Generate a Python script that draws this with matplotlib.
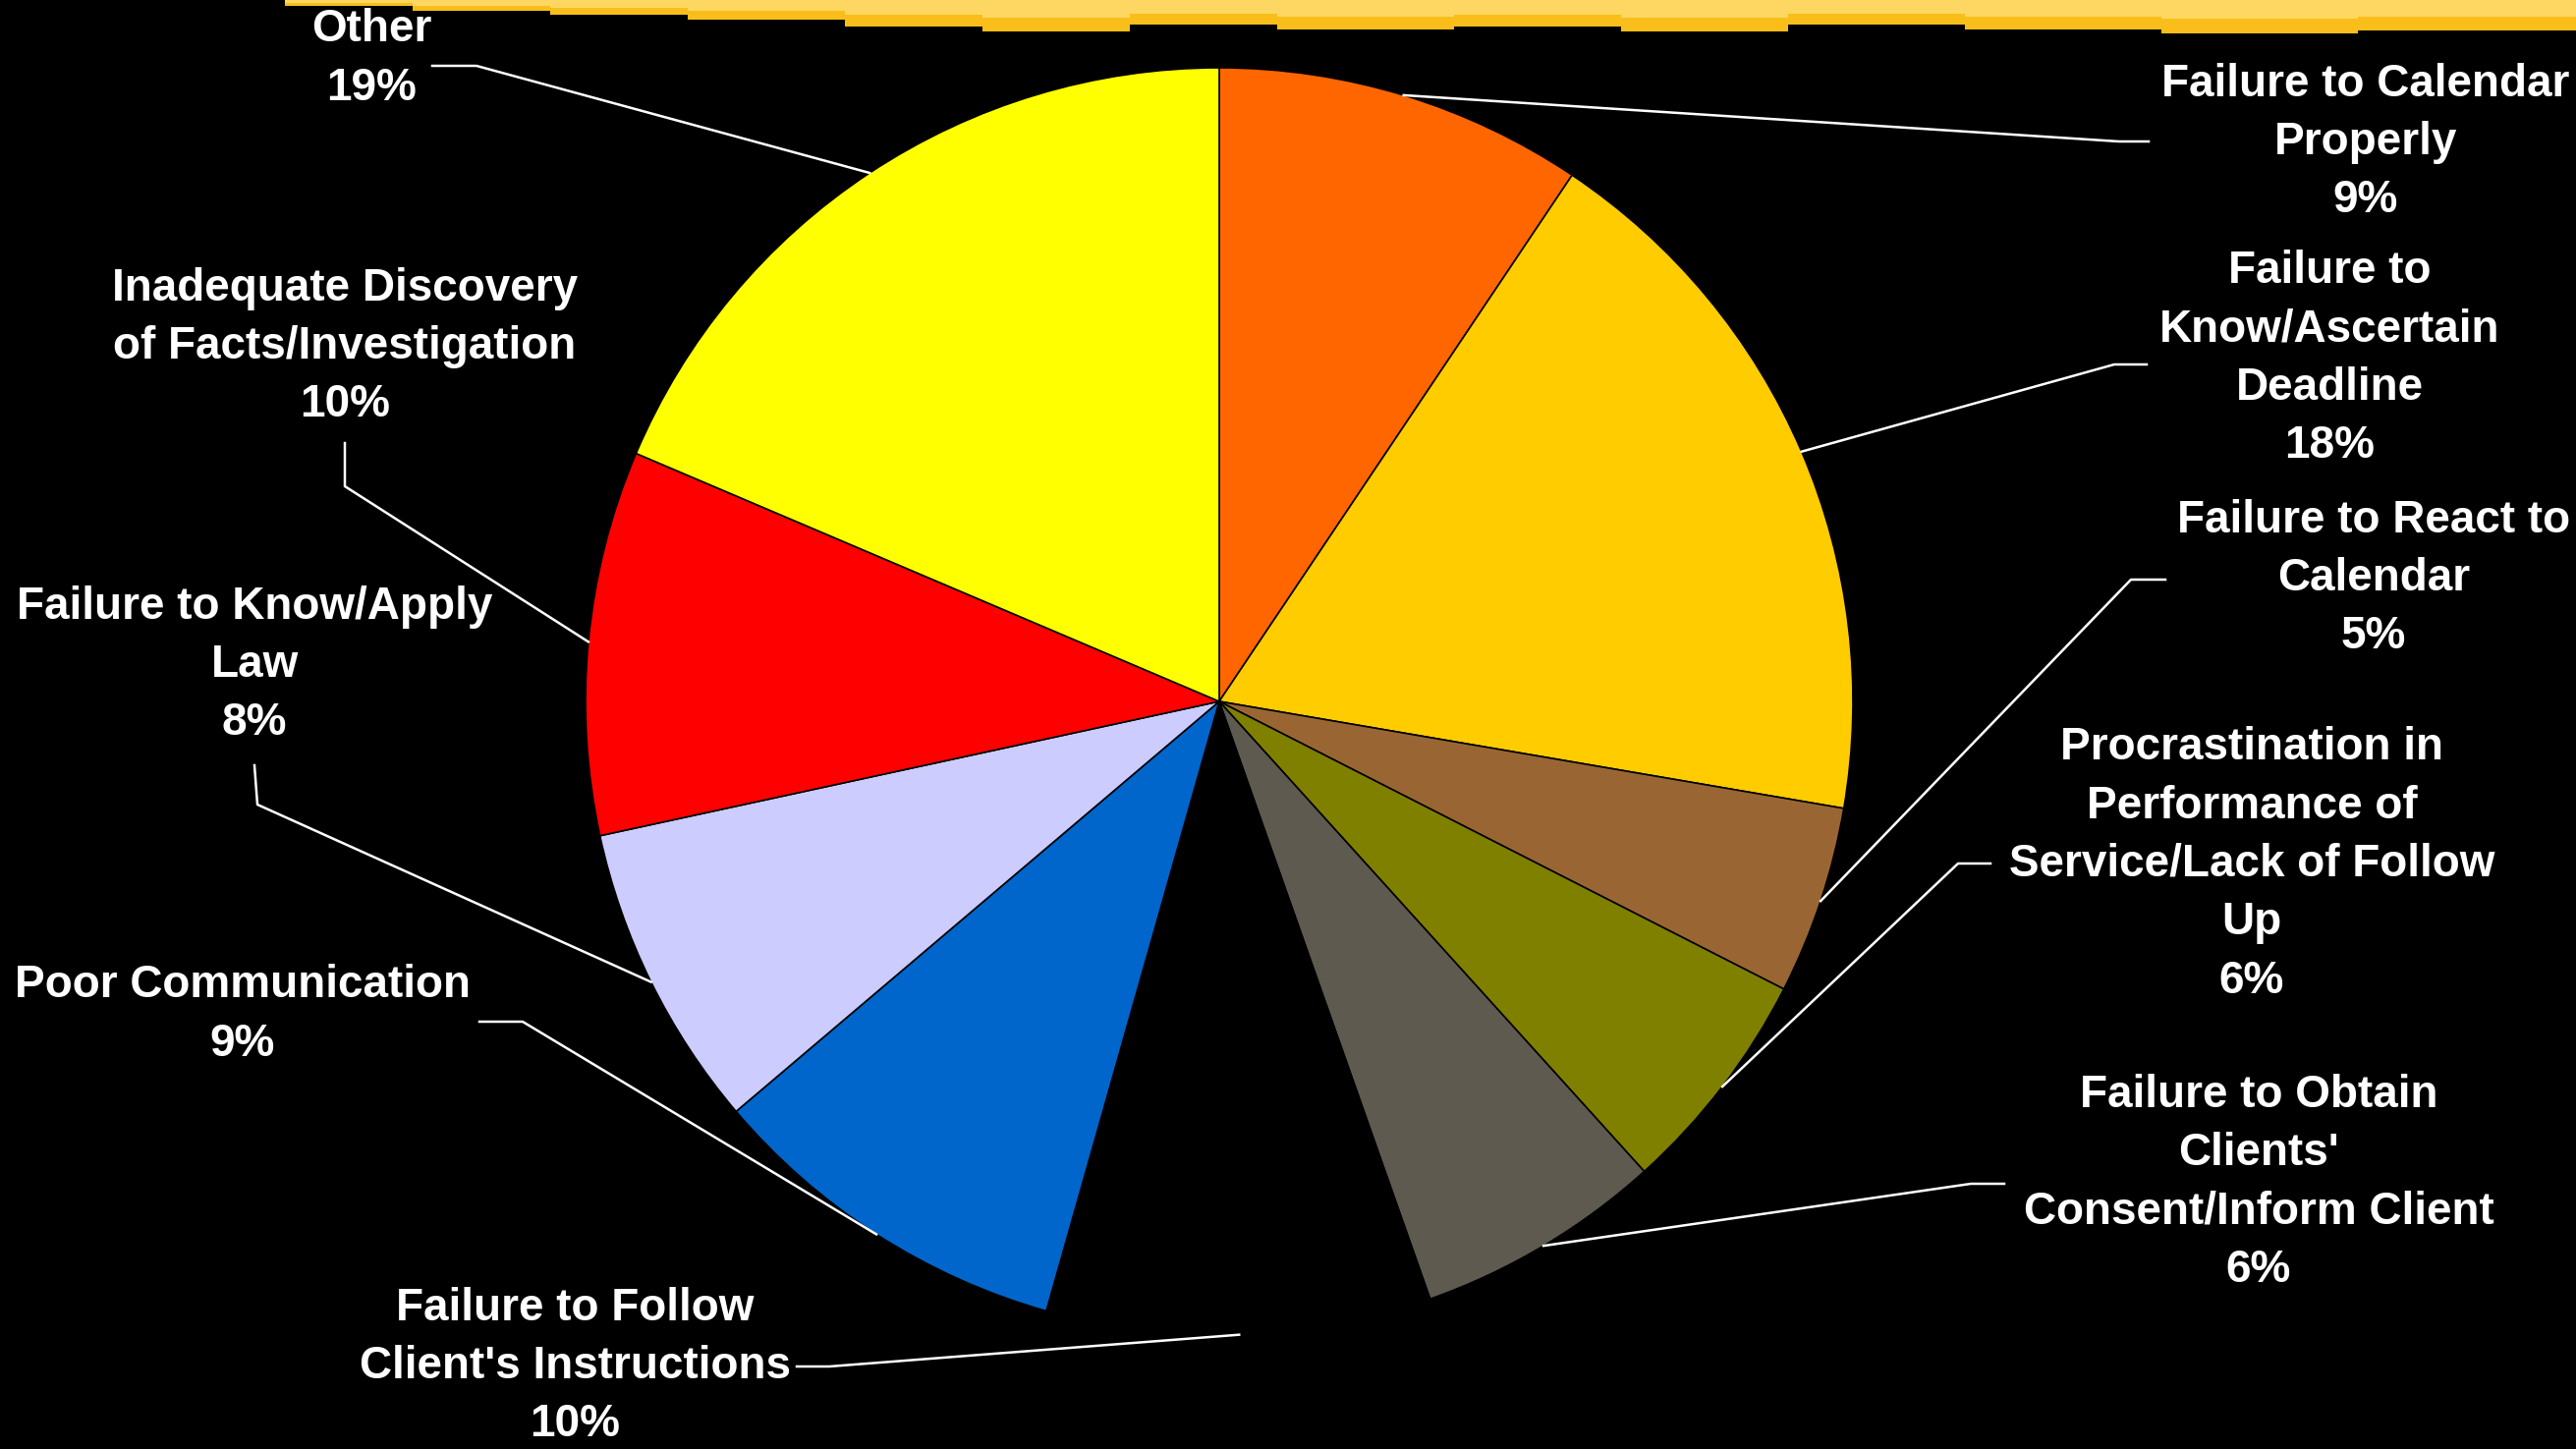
import numpy as np
import matplotlib.pyplot as plt

labels = ["Failure to Calendar\nProperly",
          "Failure to\nKnow/Ascertain\nDeadline",
          "Failure to React to\nCalendar",
          "Procrastination in\nPerformance of\nService/Lack of Follow\nUp",
          "Failure to Obtain\nClients'\nConsent/Inform Client",
          "Failure to Follow\nClient's Instructions",
          "Poor Communication",
          "Failure to Know/Apply\nLaw",
          "Inadequate Discovery\nof Facts/Investigation",
          "Other"]
# slice sizes (labels show them rounded)
shares = [9.4, 18.3, 4.8, 5.8, 6.3, 9.8, 9.4, 7.8, 9.8, 18.6]
colors = ["#FF6600", "#FFCC00", "#996633", "#808000", "#5F5A50",
          "#000000", "#0066CC", "#CCCCFF", "#FF0000", "#FFFF00"]

W, H = 2622, 1475
# label block centres and leader elbows / ends, in pixels from top left
label_xy = [(2408, 145), (2371, 365), (2416, 589), (2292, 880), (2299, 1204),
            (585, 1391), (247, 1033), (259, 677), (351, 353), (378, 60)]
elbow_xy = [(2157, 144), (2152, 371), (2169, 590), (1993, 879), (2006, 1205),
            (844, 1391), (532, 1040), (262, 819), (351, 495), (485, 67)]
end_xy = [(2187, 144), (2185, 371), (2204, 590), (2026, 879), (2040, 1205),
          (811, 1391), (488, 1040), (259, 779), (351, 451), (440, 67)]

# ragged brush band along the top edge
band_x = [290, 420, 560, 700, 860, 1000, 1150, 1300, 1480, 1650, 1820, 2000, 2200, 2400, 2622]
band_d = [6, 11, 15, 20, 27, 32, 25, 30, 27, 32, 25, 30, 34, 31, 38]

fig = plt.figure(figsize=(W / 100, H / 100), dpi=100, facecolor='black')
ax = fig.add_axes([0, 0, 1, 1])
ax.set_facecolor('black')

cx, cy, r = 1241, H - 714, 645
wedges, _ = ax.pie(shares, colors=colors, startangle=90, counterclock=False,
                   center=(cx, cy), radius=r,
                   wedgeprops=dict(edgecolor='black', linewidth=1.2))

font = dict(family=['Liberation Sans', 'DejaVu Sans'],
            weight='bold', size=33, color='white')

for w, lab, v, (lx, ly), (ex, ey), (tx, ty) in zip(wedges, labels, shares, label_xy, elbow_xy, end_xy):
    ang = np.deg2rad((w.theta1 + w.theta2) / 2)
    px, py = cx + r * np.cos(ang), cy + r * np.sin(ang)
    ax.plot([px, ex, tx], [py, H - ey, H - ty], color='white', lw=1.8)
    ax.text(lx, H - ly, lab + "\n" + "%d%%" % round(v), ha='center', va='center',
            linespacing=1.45, **font)

bx = np.array(band_x)
bd = np.array(band_d)
ax.fill_between(bx, H - bd, H, step='post', color='#F9BE1A', lw=0)
ax.fill_between(bx, H - bd * 0.55, H, step='post', color='#FFE07A', lw=0, alpha=0.75)

ax.set_xlim(0, W)
ax.set_ylim(0, H)
ax.set_aspect('equal')
ax.axis('off')

fig.savefig('out.png', dpi=100, facecolor='black')
